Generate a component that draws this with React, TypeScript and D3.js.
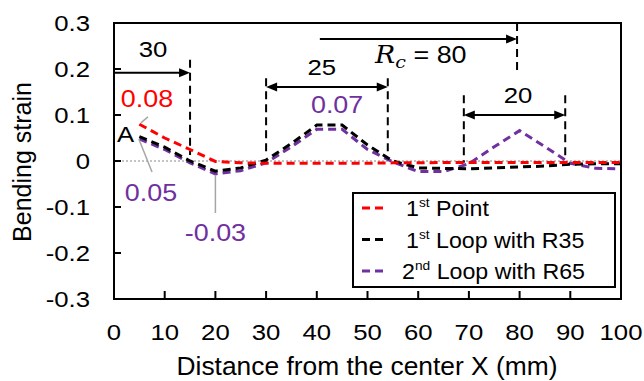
import React from "react";
import * as d3 from "d3";

// Measurement positions along the sample (mm)
const positions = [5, 10, 15, 20, 25, 30, 35, 40, 45, 50, 55, 60, 65, 70, 75, 80, 85, 90, 95, 100];

// Bending strain per series
const firstPoint = [0.08, 0.05, 0.025, -0.001, -0.004, -0.005, -0.005, -0.005, -0.005, -0.005, -0.004, -0.004, -0.003, -0.003, -0.003, -0.003, -0.003, -0.003, -0.003, -0.003];
const firstLoopR35 = [0.053, 0.03, 0.0, -0.022, -0.015, 0.002, 0.038, 0.078, 0.078, 0.035, 0.0, -0.015, -0.016, -0.017, -0.015, -0.013, -0.011, -0.007, -0.006, -0.006];
const secondLoopR65 = [0.048, 0.025, -0.004, -0.028, -0.021, -0.004, 0.031, 0.069, 0.069, 0.025, -0.002, -0.023, -0.023, -0.006, 0.031, 0.066, 0.031, -0.005, -0.016, -0.017];

const xTicks = [0, 10, 20, 30, 40, 50, 60, 70, 80, 90, 100];
const yTicks = [0.3, 0.2, 0.1, 0, -0.1, -0.2, -0.3];
const yTickLabels = ["0.3", "0.2", "0.1", "0", "-0.1", "-0.2", "-0.3"];

const RED = "#ff0000";
const BLACK = "#000000";
const PURPLE = "#7030a0";
const GREY = "#a6a6a6";
const FONT = "'Liberation Sans', Arial, sans-serif";
const SX = 1.12;
const SX_WIDE = 1.055;

const W = 644;
const H = 381;
const x = d3.scaleLinear().domain([0, 100]).range([114, 621]);
const y = d3.scaleLinear().domain([-0.3, 0.3]).range([299, 23]);

type TProps = {
  px: number;
  py: number;
  size: number;
  fill?: string;
  anchor?: "start" | "middle" | "end";
  children: React.ReactNode;
  family?: string;
  sx?: number;
};

function T({ px, py, size, fill = BLACK, anchor = "start", children, family = FONT, sx = SX }: TProps) {
  return (
    <text
      transform={`translate(${px},${py}) scale(${sx},1)`}
      fontSize={size}
      fill={fill}
      textAnchor={anchor}
      fontFamily={family}
    >
      {children}
    </text>
  );
}

function ArrowHead({ px, py, dir }: { px: number; py: number; dir: 1 | -1 }) {
  const len = 11;
  const half = 4.5;
  const pts = [
    [px, py],
    [px - dir * len, py - half],
    [px - dir * len, py + half],
  ];
  return <polygon points={pts.map((p) => p.join(",")).join(" ")} fill={BLACK} />;
}

function HArrow({ x0, x1, yv, both }: { x0: number; x1: number; yv: number; both: boolean }) {
  const a = x(x0);
  const b = x(x1);
  const py = y(yv);
  return (
    <g>
      <line x1={a + (both ? 4 : 0)} x2={b - 4} y1={py} y2={py} stroke={BLACK} strokeWidth={2} />
      <ArrowHead px={b} py={py} dir={1} />
      {both && <ArrowHead px={a} py={py} dir={-1} />}
    </g>
  );
}

function VDash({ xv, y0, y1 }: { xv: number; y0: number; y1: number }) {
  return (
    <line
      x1={x(xv)}
      x2={x(xv)}
      y1={y(y0)}
      y2={y(y1)}
      stroke={BLACK}
      strokeWidth={2}
      strokeDasharray="8,5"
    />
  );
}

function Leader({ x0, y0, x1, y1 }: { x0: number; y0: number; x1: number; y1: number }) {
  return <line x1={x(x0)} y1={y(y0)} x2={x(x1)} y2={y(y1)} stroke={GREY} strokeWidth={1.5} />;
}

const line = d3
  .line<number>()
  .x((_, i) => x(positions[i]))
  .y((d) => y(d));

const series = [
  { name: "2nd Loop with R65", values: secondLoopR65, color: PURPLE },
  { name: "1st Loop with R35", values: firstLoopR35, color: BLACK },
  { name: "1st Point", values: firstPoint, color: RED },
];

export default function App() {
  const legendRows = [
    { num: "1", sup: "st", rest: " Point", color: RED, tx: 406 },
    { num: "1", sup: "st", rest: " Loop with R35", color: BLACK, tx: 406 },
    { num: "2", sup: "nd", rest: " Loop with R65", color: PURPLE, tx: 402 },
  ];

  return (
    <svg width={W} height={H} style={{ position: "absolute", left: 0, top: 0, background: "#fff" }}>
      <rect x={0} y={0} width={W} height={H} fill="#fff" />

      {/* zero reference */}
      <line x1={x(0)} x2={x(100)} y1={y(0)} y2={y(0)} stroke="#888" strokeWidth={1} strokeDasharray="2,2" />

      {/* ticks, pointing inward */}
      {yTicks.map((t) => (
        <line key={"yt" + t} x1={x(0)} x2={x(0) + 7} y1={y(t)} y2={y(t)} stroke={BLACK} strokeWidth={2} />
      ))}
      {xTicks.map((t) => (
        <line key={"xt" + t} x1={x(t)} x2={x(t)} y1={y(-0.3)} y2={y(-0.3) - 8} stroke={BLACK} strokeWidth={2} />
      ))}

      {/* tick labels */}
      {yTicks.map((t, i) => (
        <T key={"yl" + t} px={90} py={y(t) + 8} size={23} anchor="end">
          {yTickLabels[i]}
        </T>
      ))}
      {xTicks.map((t) => (
        <T key={"xl" + t} px={x(t)} py={340} size={23} anchor="middle">
          {String(t)}
        </T>
      ))}

      {/* axis titles */}
      <text
        transform={`translate(31,162) scale(${SX_WIDE},1) rotate(-90)`}
        fontSize={25}
        fontFamily={FONT}
        textAnchor="middle"
        fill={BLACK}
      >
        Bending strain
      </text>
      <T px={367} py={375} size={25} anchor="middle" sx={SX_WIDE}>
        Distance from the center X (mm)
      </T>

      {/* annotation brackets */}
      <VDash xv={15} y0={0.22} y1={0.013} />
      <VDash xv={30} y0={0.18} y1={0.013} />
      <VDash xv={54} y0={0.18} y1={0.013} />
      <VDash xv={69} y0={0.143} y1={-0.004} />
      <VDash xv={89} y0={0.143} y1={0.007} />
      <VDash xv={79.5} y0={0.3} y1={0.187} />
      <HArrow x0={0} x1={15} yv={0.192} both={false} />
      <HArrow x0={30} x1={54} yv={0.161} both={true} />
      <HArrow x0={69} x1={89} yv={0.1} both={true} />
      <HArrow x0={40.6} x1={79.5} yv={0.265} both={false} />

      <T px={x(7.7)} py={y(0.226)} size={23} anchor="middle">30</T>
      <T px={x(41)} py={y(0.187)} size={23} anchor="middle">25</T>
      <T px={x(79.7)} py={y(0.126)} size={23} anchor="middle">20</T>
      <g transform={`translate(${x(51.5)},${y(0.213)}) scale(${SX},1)`}>
        <text fontSize={24} fill={BLACK}>
          <tspan fontFamily="'DejaVu Serif', 'Liberation Serif', serif" fontStyle="italic">R</tspan>
          <tspan fontFamily="'DejaVu Serif', 'Liberation Serif', serif" fontStyle="italic" fontSize={17} dy={5}>c</tspan>
          <tspan fontFamily={FONT} dy={-5}>{" = 80"}</tspan>
        </text>
      </g>

      {/* data lines */}
      {series.map((s) => (
        <path
          key={s.name}
          d={line(s.values) || ""}
          fill="none"
          stroke={s.color}
          strokeWidth={3}
          strokeDasharray="8,5"
        />
      ))}

      {/* value call-outs */}
      <Leader x0={5.3} y0={0.083} x1={6.7} y1={0.096} />
      <Leader x0={4.9} y0={0.048} x1={7.5} y1={-0.024} />
      <Leader x0={20} y0={-0.03} x1={20} y1={-0.113} />
      <T px={x(6.5)} py={y(0.117)} size={24} fill={RED} anchor="middle">0.08</T>
      <T px={x(0.6)} py={y(0.041)} size={23} anchor="start">A</T>
      <T px={x(7.3)} py={y(-0.087)} size={24} fill={PURPLE} anchor="middle">0.05</T>
      <T px={x(20)} py={y(-0.174)} size={24} fill={PURPLE} anchor="middle">-0.03</T>
      <T px={x(44)} py={y(0.104)} size={24} fill={PURPLE} anchor="middle">0.07</T>

      {/* frame */}
      <rect x={x(0)} y={y(0.3)} width={x(100) - x(0)} height={y(-0.3) - y(0.3)} fill="none" stroke={BLACK} strokeWidth={2} />

      {/* legend */}
      <rect x={353} y={193} width={262} height={94} fill="#fff" stroke={BLACK} strokeWidth={2} />
      {legendRows.map((r, i) => {
        const cy = 208 + i * 31.5;
        return (
          <g key={i}>
            <line x1={362} x2={386} y1={cy} y2={cy} stroke={r.color} strokeWidth={3} strokeDasharray="8,5" />
            <g transform={`translate(${r.tx},${cy + 8}) scale(${SX_WIDE},1)`}>
              <text fontSize={22} fontFamily={FONT} fill={BLACK}>
                {r.num}
                <tspan fontSize={13} dy={-9}>{r.sup}</tspan>
                <tspan dy={9}>{r.rest}</tspan>
              </text>
            </g>
          </g>
        );
      })}
    </svg>
  );
}
